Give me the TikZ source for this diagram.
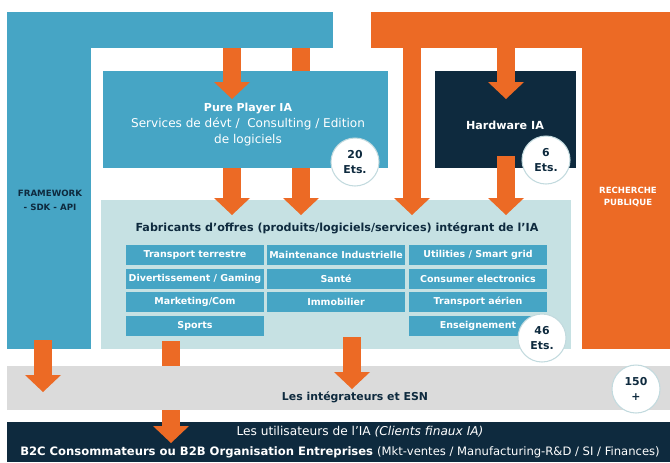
\documentclass[tikz,border=0pt]{standalone}
\usepackage{fontspec}
\setmainfont{DejaVu Sans}
\usetikzlibrary{arrows.meta,fit,calc}

\definecolor{iablue}{HTML}{46A5C5}
\definecolor{iaorange}{HTML}{EC6A25}
\definecolor{navy}{HTML}{0E2A3E}
\definecolor{paleteal}{HTML}{C6E1E3}
\definecolor{bandgray}{HTML}{DBDBDB}
\definecolor{ring}{HTML}{C2DADE}

\begin{document}
\begin{tikzpicture}
	[
	x=0.03cm, y=-0.03cm,
	align=center,
	area/.style={inner sep=0pt, outer sep=0pt},
	cell/.style={fill=iablue, minimum width=4.12cm, minimum height=0.6cm, inner sep=0pt,
		text=white, font=\bfseries\fontsize{8.1}{9}\selectfont},
	count/.style={circle, fill=white, draw=ring, line width=0.9pt, minimum size=1.44cm,
		inner sep=0pt, text=navy, font=\bfseries\fontsize{9.3}{12.5}\selectfont},
	fat/.style={draw=iaorange, line width=0.54cm,
		-{Triangle[width=1.08cm, length=0.51cm, line width=0pt]}},
	]
		\useasboundingbox (0,0) rectangle (670,462);

		% framework frame (left) and public research frame (right)
		\node[area, fill=iablue,   fit={(7,12) (333,48)}]   (fwbar) {};
		\node[area, fill=iablue,   fit={(7,12) (91,349)}]   (fwcol) {};
		\node[area, fill=iaorange, fit={(371,12) (670,48)}] (rpbar) {};
		\node[area, fill=iaorange, fit={(582,12) (670,349)}] (rpcol) {};
		\node[text=navy, font=\bfseries\fontsize{7.4}{12}\selectfont] (fwlbl) at ( 50, 200) {FRAMEWORK\\- SDK - API};
		\node[text=white, font=\bfseries\fontsize{7.3}{10}\selectfont] (rplbl) at (628, 197) {RECHERCHE\\PUBLIQUE};

		% offer makers and end users
		\node[area, fill=paleteal, fit={(101,200) (571,349)}] (fab) {};
		\node[area, fill=navy,     fit={(7,422) (670,462)}]   (users) {};

		% arrows passing behind the boxes
		\draw[fat] (301,0 |- fwbar.south) -- ($(301,0 |- fab.north)+(0,15)$);
		\draw[fat] ($(171,0 |- fab.south)+(0,-8)$) -- ($(171,0 |- users.north)+(0,21)$);

		% pure players, hardware, integrators
		\node[area, fill=iablue,   fit={(103,71) (388,168)}] (ppia) {};
		\node[area, fill=navy,     fit={(435,71) (576,168)}] (hwia) {};
		\node[area, fill=bandgray, fit={(7,366) (670,410)}]  (integ) {};
		\node[text=white, font=\fontsize{10.3}{13.7}\selectfont] (pptxt) at (248, 125)
			{{\bfseries\fontsize{9.4}{13.7}\selectfont Pure Player IA}\\Services de dévt /\ \ Consulting / Edition\\de logiciels};
		\node[text=white, font=\bfseries\fontsize{9.5}{11}\selectfont] (hwtxt) at (505, 125) {Hardware IA};
		\node[text=navy, font=\bfseries\fontsize{9.3}{11}\selectfont] (integt) at (355, 397) {Les intégrateurs et ESN};

		% titles
		\node[text=navy, font=\bfseries\fontsize{9.5}{11}\selectfont] (fabt) at (337, 228)
			{Fabricants d’offres (produits/logiciels/services) intégrant de l’IA};
		\node[text=white, font=\fontsize{10.4}{12}\selectfont] (usr1) at (360, 432)
			{Les utilisateurs de l’IA \textit{(Clients finaux IA)}};
		\node[text=white, font=\fontsize{9.9}{12}\selectfont] (usr2) at (340, 452)
			{\bfseries B2C Consommateurs ou B2B Organisation Entreprises \mdseries(Mkt-ventes / Manufacturing-R\&D / SI / Finances)};

		% sectors
		\foreach \id/\cx/\cy/\txt in {
			tt/195/255/{Transport terrestre}, dg/195/279/{Divertissement / Gaming},
			mc/195/302/{Marketing/Com}, sp/195/326/{Sports},
			mi/336/255/{Maintenance Industrielle}, sa/336/279/{Santé}, im/336/302/{Immobilier},
			us/478/255/{Utilities / Smart grid}, ce/478/279/{Consumer electronics},
			ta/478/302/{Transport aérien}, en/478/326/{Enseignement}}
			\node[cell] (\id) at (\cx,\cy) {\txt};

		% flows
		\draw[fat] (232,0 |- fwbar.south) -- ($(232,0 |- ppia.north)+(0,28)$);
		\draw[fat] (232,0 |- ppia.south)  -- ($(232,0 |- fab.north)+(0,15)$);
		\draw[fat] (412,0 |- rpbar.south) -- ($(412,0 |- fab.north)+(0,15)$);
		\draw[fat] (506,0 |- rpbar.south) -- ($(506,0 |- hwia.north)+(0,28)$);
		\draw[fat] ($(506,0 |- hwia.south)+(0,-12)$) -- ($(506,0 |- fab.north)+(0,15)$);
		\draw[fat] ($(43,0 |- fwcol.south)+(0,-9)$)  -- ($(43,0 |- integ.north)+(0,26)$);
		\draw[fat] ($(352,0 |- fab.south)+(0,-12)$)  -- ($(352,0 |- integ.north)+(0,23)$);

		% head counts
		\node[count] (nppia)  at (355, 162) {20\\Ets.};
		\node[count] (nhw)    at (546, 160) {6\\Ets.};
		\node[count] (nfab)   at (542, 338) {46\\Ets.};
		\node[count] (ninteg) at (636, 389) {150\\+};

	\end{tikzpicture}
\end{document}
